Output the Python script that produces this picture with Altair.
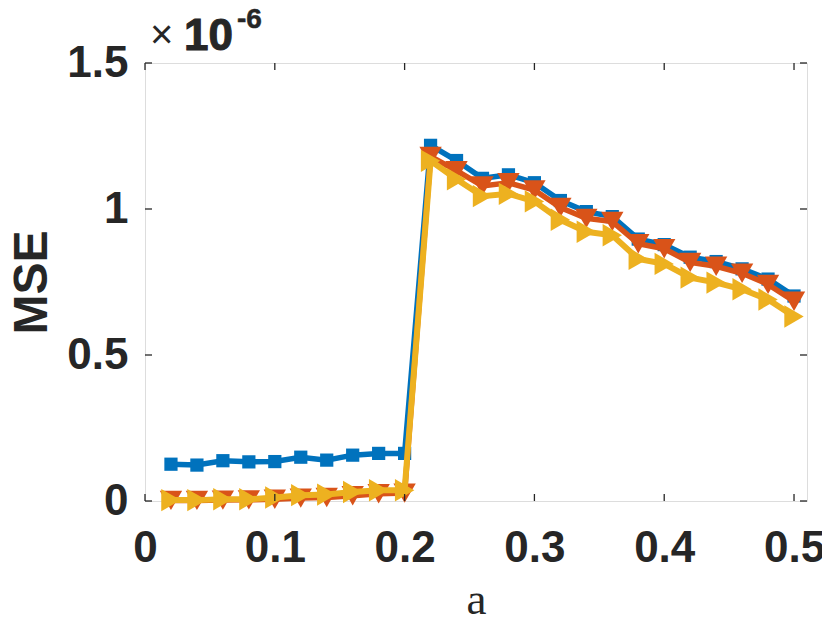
import altair as alt
import pandas as pd

# ---- data (MSE in units of 1e-6) ----
a_vals = [0.02, 0.04, 0.06, 0.08, 0.10, 0.12, 0.14, 0.16, 0.18, 0.20,
          0.22, 0.24, 0.26, 0.28, 0.30, 0.32, 0.34, 0.36, 0.38, 0.40,
          0.42, 0.44, 0.46, 0.48, 0.50]
blue_vals = [0.126, 0.123, 0.138, 0.134, 0.135, 0.150, 0.140, 0.157, 0.163, 0.163,
             1.218, 1.166, 1.105, 1.117, 1.090, 1.029, 0.991, 0.974, 0.897, 0.878,
             0.835, 0.820, 0.795, 0.760, 0.702]
red_vals = [0.002, 0.002, 0.003, 0.004, 0.006, 0.010, 0.012, 0.018, 0.025, 0.027,
            1.180, 1.131, 1.079, 1.090, 1.065, 1.005, 0.968, 0.957, 0.881, 0.864,
            0.817, 0.804, 0.780, 0.742, 0.684]
yellow_vals = [0.003, 0.003, 0.006, 0.006, 0.012, 0.020, 0.022, 0.031, 0.037, 0.037,
               1.165, 1.102, 1.044, 1.052, 1.026, 0.963, 0.922, 0.910, 0.829, 0.812,
               0.765, 0.748, 0.725, 0.690, 0.632]
series_names = ["s1", "s2", "s3"]
series_colors = ["#0072BD", "#D95319", "#EDB120"]
series_shapes = ["square", "triangle-down", "triangle-right"]
series_sizes = [175, 500, 500]
series_widths = [5.5, 5.5, 6]
x_ticks = [0, 0.1, 0.2, 0.3, 0.4, 0.5]
y_ticks = [0, 0.5, 1, 1.5]
exponent_text = ["×", "10", "-6"]
x_title = "a"
y_title = "MSE"

W, H = 662, 438
INK = "#262626"

xs = alt.Scale(domain=[0, 0.51], nice=False, zero=False)
ys = alt.Scale(domain=[0, 1.5], nice=False, zero=False)
xaxis = alt.Axis(values=x_ticks, format=".1~f", grid=False, ticks=False, domain=False,
                 labelFont="Liberation Sans", labelFontWeight="bold", labelFontSize=44,
                 labelColor=INK, labelPadding=25, labelFlush=False,
                 title=x_title, titleFont="Liberation Serif", titleFontWeight="normal",
                 titleFontSize=45, titleColor=INK, titlePadding=7)
yaxis = alt.Axis(values=y_ticks, format=".1~f", grid=False, ticks=False, domain=False,
                 labelFont="Liberation Sans", labelFontWeight="bold", labelFontSize=44,
                 labelColor=INK, labelPadding=17, labelFlush=False,
                 title=y_title, titleFont="Liberation Sans", titleFontWeight="bold",
                 titleFontSize=48, titleColor=INK, titlePadding=10)
X = alt.X("a:Q", scale=xs, axis=xaxis)
Y = alt.Y("mse:Q", scale=ys, axis=yaxis)

layers = []
for vals, name, col, shp, sz, lw in zip([blue_vals, red_vals, yellow_vals], series_names,
                                        series_colors, series_shapes, series_sizes,
                                        series_widths):
    df = pd.DataFrame({"a": a_vals, "mse": vals, "s": name})
    base = alt.Chart(df)
    layers.append(base.mark_line(color=col, strokeWidth=lw).encode(x=X, y=Y))
    layers.append(base.mark_point(shape=shp, filled=True, color=col, opacity=1, size=sz,
                                  strokeWidth=0).encode(x=X, y=Y))

# inward tick marks on all four sides
xt = alt.Chart(pd.DataFrame({"a": x_ticks}))
yt = alt.Chart(pd.DataFrame({"mse": y_ticks}))
tick_style = dict(color=INK, strokeWidth=1.3)
layers.append(xt.mark_rule(**tick_style).encode(x=X, y=alt.value(H), y2=alt.value(H - 7)))
layers.append(xt.mark_rule(**tick_style).encode(x=X, y=alt.value(0), y2=alt.value(7)))
layers.append(yt.mark_rule(**tick_style).encode(y=Y, x=alt.value(0), x2=alt.value(7)))
layers.append(yt.mark_rule(**tick_style).encode(y=Y, x=alt.value(W), x2=alt.value(W - 7)))

# exponent annotation  x10^-6
def txt(t, x, y, size, weight, sw=0):
    return alt.Chart(pd.DataFrame({"t": [t]})).mark_text(
        align="left", baseline="alphabetic", font="Liberation Sans", fontSize=size,
        fontWeight=weight, color=INK, stroke=INK, strokeWidth=sw).encode(
        text="t:N", x=alt.value(x), y=alt.value(y))

layers.append(txt(exponent_text[0], 5, -15, 40, "normal"))
layers.append(txt(exponent_text[1], 39, -13, 44, "bold", 1))
layers.append(txt(exponent_text[2], 92, -35, 28, "bold", 0.5))

chart = alt.layer(*layers).properties(
    width=W, height=H,
    autosize=alt.AutoSizeParams(type="none"),
    padding={"left": 137, "top": 55, "right": 15, "bottom": 117},
).configure_view(stroke=INK, strokeWidth=1.3).configure(background="white")

chart.save("out.html", embed_options={"renderer": "svg", "actions": False})
